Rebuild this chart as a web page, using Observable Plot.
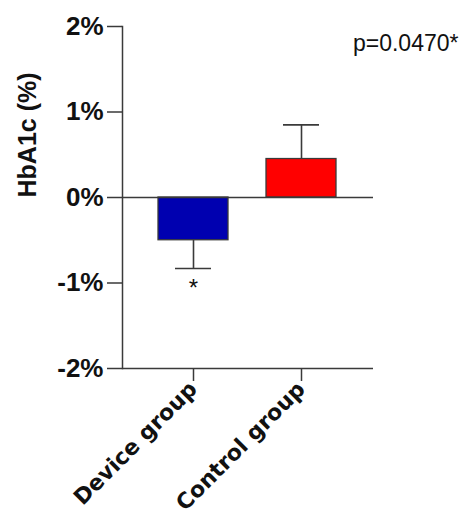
<!DOCTYPE html>
<html>
<head>
<meta charset="utf-8">
<script src="https://cdn.jsdelivr.net/npm/d3@7"></script>
<script src="https://cdn.jsdelivr.net/npm/@observablehq/plot@0.6"></script>
<style>
  html, body { margin: 0; padding: 0; background: #fff; }
  #chart { width: 460px; height: 520px; overflow: hidden; }
</style>
</head>
<body>
<div id="chart"></div>
<script>
const groups = ["Device group", "Control group"];
const means = [-0.50, 0.45];
const errors = [0.33, 0.40];
const colors = ["#0000b0", "#ff0000"];
const yTicks = [-2, -1, 0, 1, 2];
const pLabel = "p=0.0470*";
const starLabel = "*";

const data = groups.map((g, i) => ({
  group: g, mean: means[i], err: errors[i],
  tip: means[i] + Math.sign(means[i]) * errors[i], color: colors[i]
}));

const font = "Liberation Sans, Arial, sans-serif";
const axisColor = "#3a3a3a";

const chart = Plot.plot({
  width: 460,
  height: 520,
  marginLeft: 122,
  marginRight: 87,
  marginTop: 26,
  marginBottom: 152,
  style: { fontFamily: font, background: "#fff", color: axisColor, overflow: "visible" },
  x: { domain: groups, paddingInner: 0.35, paddingOuter: 0.33, axis: null },
  y: { domain: [-2, 2], axis: null },
  marks: [
    Plot.frame({ anchor: "left", stroke: axisColor, strokeWidth: 1.5 }),
    Plot.axisY({ ticks: yTicks, tickFormat: d => d + "%", tickSize: 15, tickPadding: 4,
      fontSize: 26, fontWeight: "bold", fill: "#111", stroke: axisColor, strokeWidth: 1.5,
      label: null }),
    Plot.text(["HbA1c (%)"], { frameAnchor: "left", dx: -95, rotate: -90, fontSize: 25,
      fontWeight: "bold", fill: "#111", text: d => d }),
    Plot.axisX({ tickSize: 13, tickRotate: -45, fontSize: 22, fontWeight: "bold",
      fontFamily: "DejaVu Sans, Verdana, sans-serif",
      fill: "#111", stroke: axisColor, strokeWidth: 1.5, label: null, tickPadding: 4 }),
    Plot.ruleX(data, { x: "group", y1: "mean", y2: "tip", stroke: axisColor, strokeWidth: 1.6 }),
    Plot.tickY(data, { x: "group", y: "tip", stroke: axisColor, strokeWidth: 1.6, insetLeft: 17, insetRight: 17 }),
    Plot.barY(data, { x: "group", y: "mean", fill: d => d.color, stroke: axisColor, strokeWidth: 1.3 }),
    Plot.ruleY([0], { stroke: axisColor, strokeWidth: 1.5 }),
    Plot.ruleY([-2], { stroke: axisColor, strokeWidth: 1.5 }),
    Plot.text([data[0]], { x: "group", y: d => d.tip - 0.23, text: () => starLabel, fontSize: 24, fill: "#111" }),
    Plot.text([pLabel], { frameAnchor: "top-right", dx: 85, dy: 8, text: d => d, fontSize: 23, fill: "#111" })
  ]
});
document.getElementById("chart").append(chart);
</script>
</body>
</html>
